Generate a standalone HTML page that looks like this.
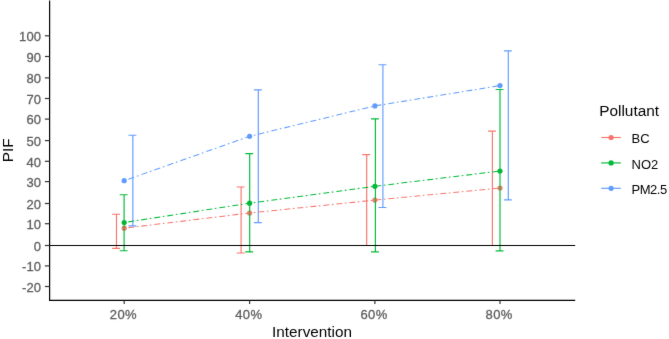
<!DOCTYPE html><html><head><meta charset="utf-8"><style>html,body{margin:0;padding:0;background:#fff;}svg{display:block;}text{font-family:"Liberation Sans",sans-serif;}</style></head><body>
<svg width="669" height="339" viewBox="0 0 669 339">
<defs><filter id="bl" x="0" y="0" width="669" height="339" filterUnits="userSpaceOnUse" color-interpolation-filters="sRGB"><feConvolveMatrix order="3" kernelMatrix="0.00524 0.06192 0.00524 0.06192 0.73137 0.06192 0.00524 0.06192 0.00524" edgeMode="none"/></filter></defs>
<rect width="669" height="339" fill="#fff"/>
<g filter="url(#bl)">
<circle cx="124.2" cy="228.2" r="2.6" fill="#F8766D"/>
<circle cx="249.6" cy="213.0" r="2.6" fill="#F8766D"/>
<circle cx="374.9" cy="200.1" r="2.6" fill="#F8766D"/>
<circle cx="500.0" cy="188.0" r="2.6" fill="#F8766D"/>
<circle cx="124.2" cy="222.5" r="2.6" fill="#00BA38"/>
<circle cx="249.6" cy="203.2" r="2.6" fill="#00BA38"/>
<circle cx="374.9" cy="186.3" r="2.6" fill="#00BA38"/>
<circle cx="500.0" cy="171.0" r="2.6" fill="#00BA38"/>
<circle cx="124.2" cy="180.7" r="2.6" fill="#619CFF"/>
<circle cx="249.6" cy="136.3" r="2.6" fill="#619CFF"/>
<circle cx="374.9" cy="105.9" r="2.6" fill="#619CFF"/>
<circle cx="500.0" cy="85.6" r="2.6" fill="#619CFF"/>
<path d="M112.10 214.2H120.00M116.5 214.2V248.4M112.10 248.4H120.00M236.70 187.0H244.60M241.1 187.0V253.0M236.70 253.0H244.60M362.30 154.6H370.20M366.7 154.6V245.5M362.30 245.5H370.20M488.00 131.1H495.90M492.4 131.1V245.5M488.00 245.5H495.90" stroke="#F8766D" stroke-width="1.15" fill="none"/>
<path d="M119.70 194.7H127.60M124.1 194.7V250.7M119.70 250.7H127.60M245.30 153.6H253.20M249.7 153.6V251.9M245.30 251.9H253.20M371.00 118.9H378.90M375.4 118.9V251.8M371.00 251.8H378.90M495.60 89.5H503.50M500.0 89.5V250.9M495.60 250.9H503.50" stroke="#00BA38" stroke-width="1.15" fill="none"/>
<path d="M128.45 135.2H136.35M132.85 135.2V225.9M128.45 225.9H136.35M253.90 89.8H261.80M258.3 89.8V222.6M253.90 222.6H261.80M378.50 64.7H386.40M382.9 64.7V207.5M378.50 207.5H386.40M503.90 50.9H511.80M508.3 50.9V199.8M503.90 199.8H511.80" stroke="#619CFF" stroke-width="1.15" fill="none"/>
<path d="M124.2 228.2L249.6 213.0" stroke="#F8766D" stroke-width="1.05" fill="none" stroke-dasharray="1.612 2.972 5.893 2.619" stroke-dashoffset="0.403"/>
<path d="M249.6 213.0L374.9 200.1" stroke="#F8766D" stroke-width="1.05" fill="none" stroke-dasharray="1.608 2.966 5.881 2.614" stroke-dashoffset="8.847"/>
<path d="M374.9 200.1L500.0 188.0" stroke="#F8766D" stroke-width="1.05" fill="none" stroke-dasharray="1.607 2.964 5.877 2.612" stroke-dashoffset="4.119"/>
<path d="M124.2 222.5L249.6 203.2" stroke="#00BA38" stroke-width="1.05" fill="none" stroke-dasharray="1.619 2.985 5.919 2.631" stroke-dashoffset="0.405"/>
<path d="M249.6 203.2L374.9 186.3" stroke="#00BA38" stroke-width="1.05" fill="none" stroke-dasharray="1.614 2.977 5.903 2.624" stroke-dashoffset="8.880"/>
<path d="M374.9 186.3L500.0 171.0" stroke="#00BA38" stroke-width="1.05" fill="none" stroke-dasharray="1.612 2.972 5.894 2.619" stroke-dashoffset="4.131"/>
<path d="M124.2 180.7L249.6 136.3" stroke="#619CFF" stroke-width="1.05" fill="none" stroke-dasharray="1.697 3.129 6.206 2.758" stroke-dashoffset="0.424"/>
<path d="M249.6 136.3L374.9 105.9" stroke="#619CFF" stroke-width="1.05" fill="none" stroke-dasharray="1.646 3.036 6.020 2.675" stroke-dashoffset="9.055"/>
<path d="M374.9 105.9L500.0 85.6" stroke="#619CFF" stroke-width="1.05" fill="none" stroke-dasharray="1.621 2.989 5.927 2.634" stroke-dashoffset="4.154"/>
<path d="M49.6 0.5V300.4H575.2" stroke="#000" stroke-width="1.2" fill="none"/>
<path d="M49.6 245.5H575.2" stroke="#000" stroke-width="1.2" fill="none"/>
<path d="M44.9 286.50H49.6" stroke="#333" stroke-width="1.2"/>
<path d="M44.9 265.90H49.6" stroke="#333" stroke-width="1.2"/>
<path d="M44.9 245.50H49.6" stroke="#333" stroke-width="1.2"/>
<path d="M44.9 223.70H49.6" stroke="#333" stroke-width="1.2"/>
<path d="M44.9 203.50H49.6" stroke="#333" stroke-width="1.2"/>
<path d="M44.9 181.60H49.6" stroke="#333" stroke-width="1.2"/>
<path d="M44.9 161.30H49.6" stroke="#333" stroke-width="1.2"/>
<path d="M44.9 140.60H49.6" stroke="#333" stroke-width="1.2"/>
<path d="M44.9 119.10H49.6" stroke="#333" stroke-width="1.2"/>
<path d="M44.9 98.50H49.6" stroke="#333" stroke-width="1.2"/>
<path d="M44.9 77.90H49.6" stroke="#333" stroke-width="1.2"/>
<path d="M44.9 56.50H49.6" stroke="#333" stroke-width="1.2"/>
<path d="M44.9 35.80H49.6" stroke="#333" stroke-width="1.2"/>
<path d="M124.2 300.4V304" stroke="#333" stroke-width="1.2"/>
<path d="M249.6 300.4V304" stroke="#333" stroke-width="1.2"/>
<path d="M374.9 300.4V304" stroke="#333" stroke-width="1.2"/>
<path d="M500.0 300.4V304" stroke="#333" stroke-width="1.2"/>
<path d="M601.2 137.5H620.8" stroke="#F8766D" stroke-width="1.15"/>
<circle cx="611.1" cy="137.5" r="2.6" fill="#F8766D"/>
<path d="M601.2 162.9H620.8" stroke="#00BA38" stroke-width="1.15"/>
<circle cx="611.1" cy="162.9" r="2.6" fill="#00BA38"/>
<path d="M601.2 188.3H620.8" stroke="#619CFF" stroke-width="1.15"/>
<circle cx="611.1" cy="188.3" r="2.6" fill="#619CFF"/>
<g opacity="0.999"><text x="41.2" y="291.70" font-size="13" letter-spacing="0.15" fill="#5E5E5E" stroke="#5E5E5E" stroke-width="0.3" text-anchor="end">-20</text><text x="41.2" y="271.10" font-size="13" letter-spacing="0.15" fill="#5E5E5E" stroke="#5E5E5E" stroke-width="0.3" text-anchor="end">-10</text><text x="41.2" y="250.70" font-size="13" letter-spacing="0.15" fill="#5E5E5E" stroke="#5E5E5E" stroke-width="0.3" text-anchor="end">0</text><text x="41.2" y="228.90" font-size="13" letter-spacing="0.15" fill="#5E5E5E" stroke="#5E5E5E" stroke-width="0.3" text-anchor="end">10</text><text x="41.2" y="208.70" font-size="13" letter-spacing="0.15" fill="#5E5E5E" stroke="#5E5E5E" stroke-width="0.3" text-anchor="end">20</text><text x="41.2" y="186.80" font-size="13" letter-spacing="0.15" fill="#5E5E5E" stroke="#5E5E5E" stroke-width="0.3" text-anchor="end">30</text><text x="41.2" y="166.50" font-size="13" letter-spacing="0.15" fill="#5E5E5E" stroke="#5E5E5E" stroke-width="0.3" text-anchor="end">40</text><text x="41.2" y="145.80" font-size="13" letter-spacing="0.15" fill="#5E5E5E" stroke="#5E5E5E" stroke-width="0.3" text-anchor="end">50</text><text x="41.2" y="124.30" font-size="13" letter-spacing="0.15" fill="#5E5E5E" stroke="#5E5E5E" stroke-width="0.3" text-anchor="end">60</text><text x="41.2" y="103.70" font-size="13" letter-spacing="0.15" fill="#5E5E5E" stroke="#5E5E5E" stroke-width="0.3" text-anchor="end">70</text><text x="41.2" y="83.10" font-size="13" letter-spacing="0.15" fill="#5E5E5E" stroke="#5E5E5E" stroke-width="0.3" text-anchor="end">80</text><text x="41.2" y="61.70" font-size="13" letter-spacing="0.15" fill="#5E5E5E" stroke="#5E5E5E" stroke-width="0.3" text-anchor="end">90</text><text x="41.2" y="41.00" font-size="13" letter-spacing="0.15" fill="#5E5E5E" stroke="#5E5E5E" stroke-width="0.3" text-anchor="end">100</text><text x="123.40" y="319.2" font-size="13" letter-spacing="0.4" fill="#5E5E5E" stroke="#5E5E5E" stroke-width="0.3" text-anchor="middle">20%</text><text x="248.80" y="319.2" font-size="13" letter-spacing="0.4" fill="#5E5E5E" stroke="#5E5E5E" stroke-width="0.3" text-anchor="middle">40%</text><text x="374.10" y="319.2" font-size="13" letter-spacing="0.4" fill="#5E5E5E" stroke="#5E5E5E" stroke-width="0.3" text-anchor="middle">60%</text><text x="499.20" y="319.2" font-size="13" letter-spacing="0.4" fill="#5E5E5E" stroke="#5E5E5E" stroke-width="0.3" text-anchor="middle">80%</text><text x="312.0" y="337.1" font-size="15.3" fill="#000" text-anchor="middle">Intervention</text><text transform="translate(12.7 150.3) rotate(-90)" x="0" y="0" font-size="15.3" fill="#000" text-anchor="middle">PIF</text><text x="599.2" y="115.9" font-size="15.4" fill="#000">Pollutant</text><text x="631.6" y="143.10" font-size="13" fill="#000">BC</text><text x="631.6" y="168.50" font-size="13" fill="#000">NO2</text><text x="631.6" y="193.90" font-size="13" fill="#000" textLength="35.6" lengthAdjust="spacing">PM2.5</text></g>
</g>
</svg></body></html>
